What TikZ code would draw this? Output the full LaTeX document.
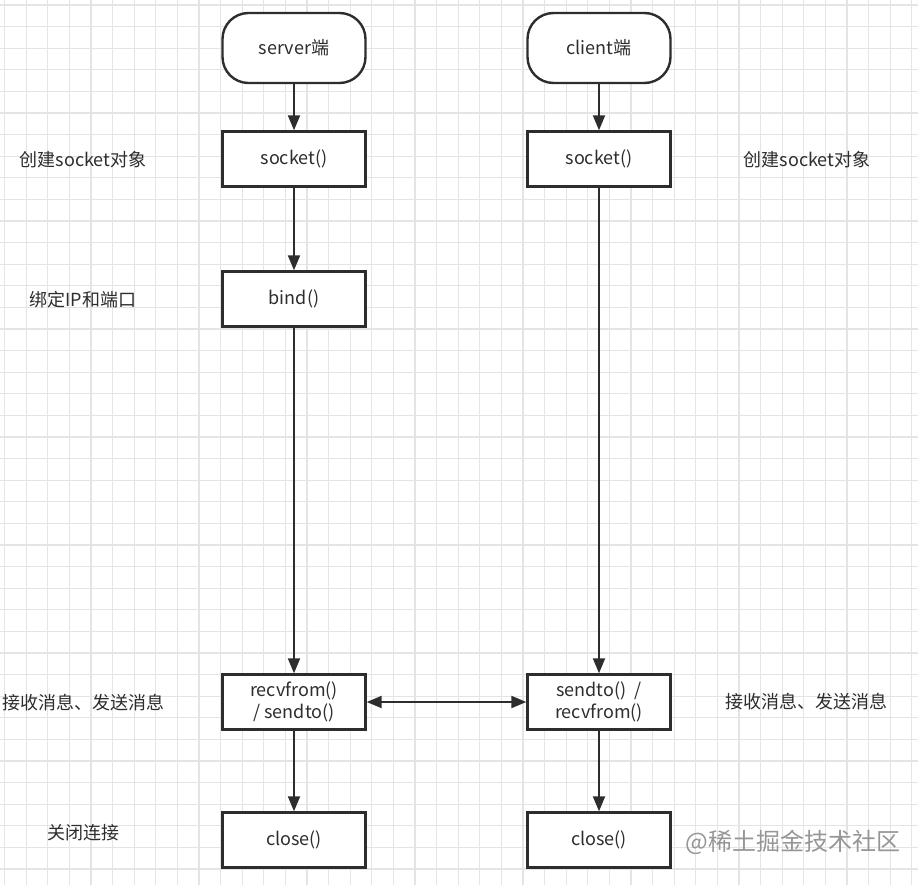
\documentclass[tikz,border=0pt]{standalone}
\usepackage{fontspec}
\setmainfont{Noto Sans CJK SC}
\usetikzlibrary{arrows.meta}
\definecolor{gridline}{RGB}{228,228,228}
\definecolor{ink}{RGB}{45,45,45}
\definecolor{mark}{RGB}{150,150,150}
\begin{document}
\begin{tikzpicture}[x=1pt,y=-1pt,every node/.style={font=\fontsize{18}{22}\selectfont,text=ink},
  box/.style={draw=ink,line width=2.4pt,fill=white,minimum width=143pt,minimum height=55pt,inner sep=0pt,align=center},
  term/.style={box,rounded corners=26pt,minimum height=70pt},
  link/.style={draw=ink,line width=2pt,-{Triangle[length=15pt,width=12pt]}}]
\useasboundingbox (0,0) rectangle (918,885);
\fill[white] (0,0) rectangle (918,885);
% grid
\foreach \g in {0,...,42} {
  \draw[gridline,line width=1.2pt] (4.5+21.6*\g,0) -- (4.5+21.6*\g,885);
  \draw[gridline,line width=1.2pt] (0,5+21.6*\g) -- (918,5+21.6*\g);
}
% server side
\node[term] (srv) at (294,48) {server端};
\node[box] (ssock) at (294,159) {socket()};
\node[box] (bind) at (294,299) {bind()};
\node[box] (srecv) at (294,702) {recvfrom()\\ / sendto()};
\node[box] (sclose) at (294,840) {close()};
% client side
\node[term] (cli) at (599,48) {client端};
\node[box] (csock) at (599,159) {socket()};
\node[box] (csend) at (599,702) {sendto()\ \ /\\ recvfrom()};
\node[box] (cclose) at (599,840) {close()};
% notes
\node (nsock) at (83,160) {创建socket对象};
\node (nbind) at (83,300) {绑定IP和端口};
\node (nmsg) at (83,703) {接收消息、发送消息};
\node (nclose) at (83,833) {关闭连接};
\node (csocknote) at (807,160) {创建socket对象};
\node (cmsgnote) at (806,702) {接收消息、发送消息};
\node[font=\fontsize{24}{28}\selectfont,text=mark] (wmark) at (793,842) {@稀土掘金技术社区};
% arrows
\draw[link] (srv) -- (ssock);
\draw[link] (ssock) -- (bind);
\draw[link] (bind) -- (srecv);
\draw[link] (srecv) -- (sclose);
\draw[link] (cli) -- (csock);
\draw[link] (csock) -- (csend);
\draw[link] (csend) -- (cclose);
\draw[link,{Triangle[length=15pt,width=12pt]}-{Triangle[length=15pt,width=12pt]}] (srecv) -- (csend);
\end{tikzpicture}
\end{document}
